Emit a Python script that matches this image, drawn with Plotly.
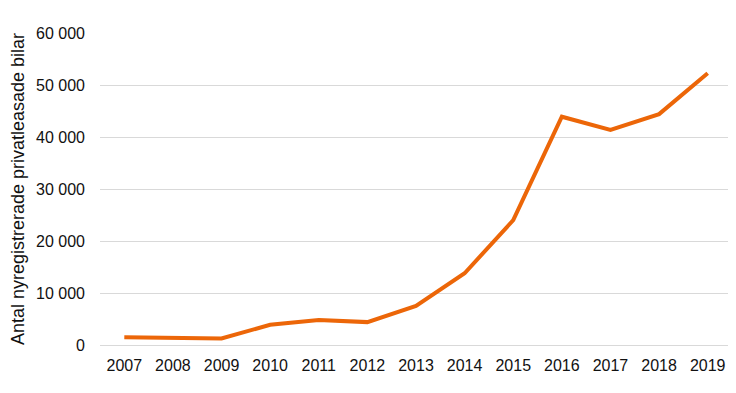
import plotly.graph_objects as go

years = ["2007", "2008", "2009", "2010", "2011", "2012", "2013",
         "2014", "2015", "2016", "2017", "2018", "2019"]
values = [1500, 1300, 1250, 3900, 4800, 4400, 7500,
          13800, 24000, 43900, 41350, 44400, 52250]

# page body has an 8px margin, so the figure is offset by 8px
fig = go.Figure()
fig.add_trace(go.Scatter(
    x=years, y=values, mode="lines",
    line=dict(color="#EC6608", width=4),
    hoverinfo="x+y",
))

fig.update_layout(
    width=728, height=385,
    margin=dict(l=92, r=4, t=25, b=48),
    paper_bgcolor="white", plot_bgcolor="white",
    separators=", ",
    font=dict(family="Liberation Sans, Arial, sans-serif", size=16, color="#111111"),
    showlegend=False,
    xaxis=dict(
        type="category",
        range=[-0.5, 12.5],
        automargin=False,
        showgrid=False,
        showline=True, linecolor="#d9d9d9", linewidth=1,
        ticks="", tickfont=dict(size=16),
        ticklabelstandoff=6,
    ),
    yaxis=dict(
        range=[0, 60000],
        automargin=False,
        tickvals=[0, 10000, 20000, 30000, 40000, 50000, 60000],
        tickformat=",d",
        showgrid=True, gridcolor="#d9d9d9", gridwidth=1,
        zeroline=False,
        ticks="", tickfont=dict(size=16),
        ticklabelstandoff=14,
        title=dict(text="Antal nyregistrerade privatleasade bilar",
                   font=dict(size=18), standoff=16),
    ),
)

fig.write_html("out.html")
